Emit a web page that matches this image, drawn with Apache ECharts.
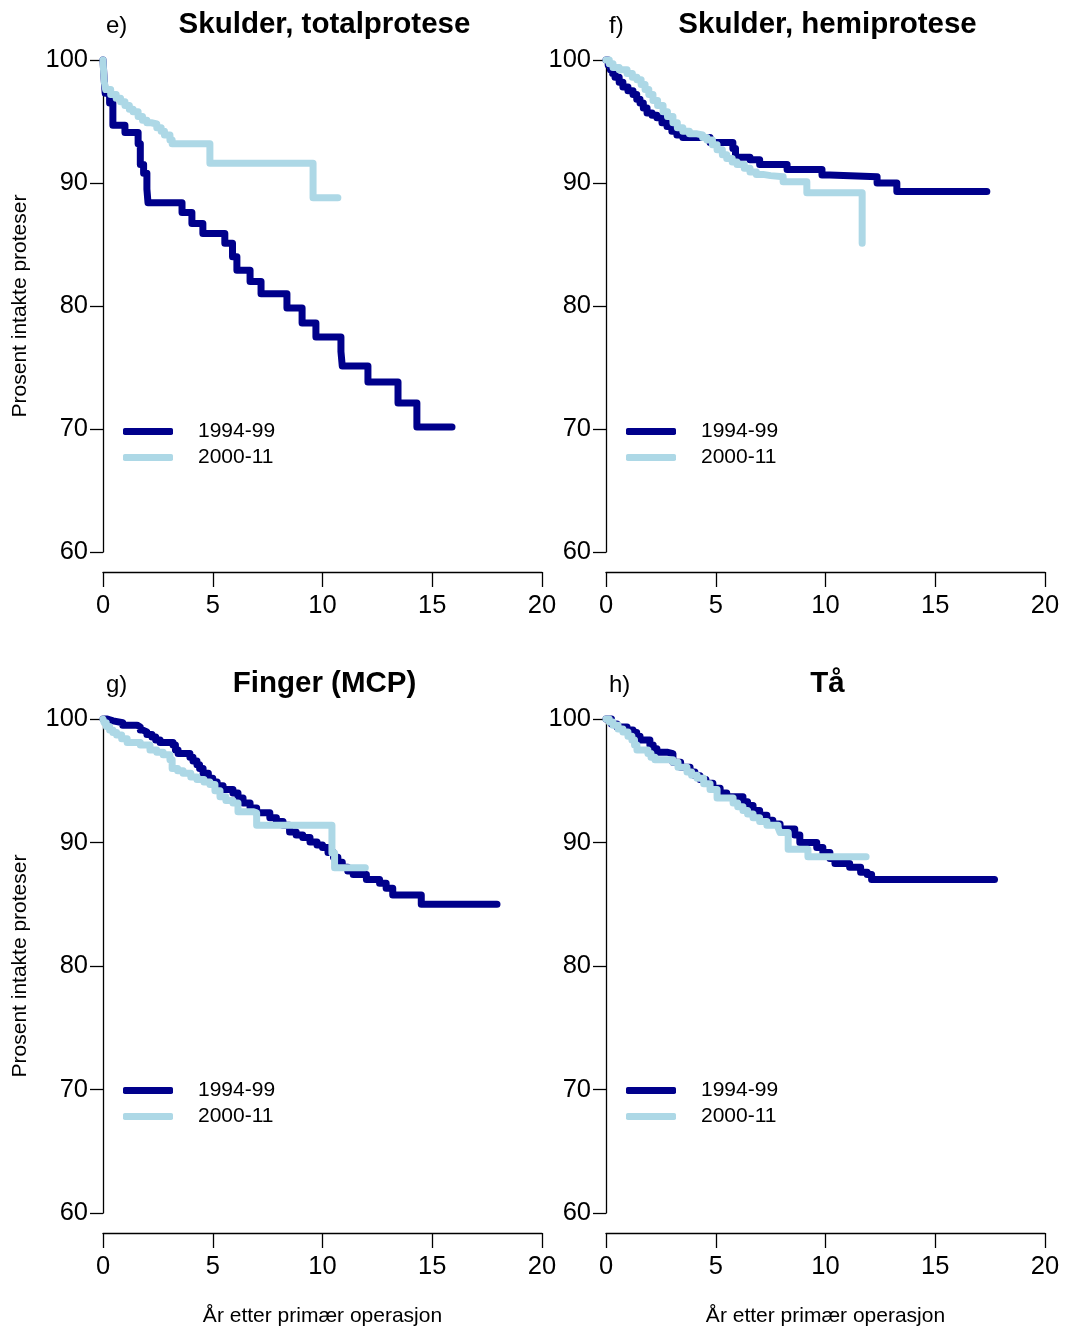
<!DOCTYPE html>
<html><head><meta charset="utf-8">
<script src="https://cdn.jsdelivr.net/npm/echarts@6/dist/echarts.min.js"></script>
<style>html,body{margin:0;padding:0;background:#fff}#c{width:1066px;height:1328px}</style>
</head><body><div id="c"></div>
<script>
// ---- data (years, percent intact) ----
const seriesNames = ['1994-99', '2000-11'];
const panelLetters = ['e)', 'f)', 'g)', 'h)'];
const panelTitles = ['Skulder, totalprotese', 'Skulder, hemiprotese', 'Finger (MCP)', 'Tå'];
const xTicks = [0, 5, 10, 15, 20];
const yTicks = [60, 70, 80, 90, 100];

const eDark = [[0,100],[0.05,98.5],[0.1,97.3],[0.3,96.5],[0.45,94.7],[1.0,94.1],[1.6,93.2],[1.7,91.5],[1.85,90.8],[2.0,89.5],[2.05,88.4],[3.6,87.6],[4.05,86.7],[4.55,85.9],[5.55,85.1],[5.9,84.0],[6.1,82.9],[6.7,82.0],[7.2,81.0],[8.38,79.84],[9.07,78.62],[9.7,77.48],[10.84,76.3],[10.9,75.12],[12.07,73.82],[13.44,72.11],[14.3,70.16],[15.9,70.16]];
const eLight = [[0,100],[0.03,99.0],[0.06,98.2],[0.12,97.6],[0.35,97.2],[0.6,96.9],[0.8,96.6],[1.0,96.3],[1.2,96.0],[1.37,95.8],[1.6,95.4],[1.8,95.1],[2.0,94.9],[2.2,94.8],[2.45,94.5],[2.65,94.2],[2.8,93.9],[3.05,93.5],[3.15,93.2],[4.87,91.6],[9.57,88.8],[10.7,88.8]];
const fDark = [[0,100],[0.1,99.6],[0.2,99.2],[0.3,98.9],[0.41,98.6],[0.6,98.2],[0.77,97.8],[1.0,97.5],[1.23,97.2],[1.4,96.8],[1.55,96.5],[1.7,96.1],[1.87,95.7],[2.1,95.5],[2.32,95.3],[2.55,94.9],[2.78,94.6],[3.0,94.2],[3.23,93.9],[3.5,93.7],[4.74,93.3],[5.78,92.8],[5.9,92.1],[6.56,91.9],[7.0,91.5],[8.25,91.1],[9.84,90.65],[10.2,90.5],[12.35,90.0],[13.25,89.3],[17.35,89.3]];
const fLight = [[0,100],[0.15,99.7],[0.32,99.4],[0.6,99.2],[0.96,98.9],[1.2,98.6],[1.41,98.4],[1.6,98.0],[1.78,97.6],[1.95,97.2],[2.14,96.7],[2.35,96.3],[2.6,95.8],[2.8,95.4],[3.05,94.9],[3.25,94.5],[3.5,94.2],[3.8,94.0],[4.15,93.9],[4.4,93.7],[4.6,93.5],[4.85,93.1],[5.06,92.7],[5.3,92.3],[5.5,92.0],[5.75,91.7],[5.97,91.5],[6.3,91.2],[6.56,90.9],[6.85,90.7],[7.15,90.6],[7.5,90.5],[8.07,90.1],[9.15,89.2],[11.67,85.1]];
const gDark = [[0,100],[0.2,99.85],[0.46,99.7],[0.9,99.5],[1.55,99.35],[1.7,99.1],[1.82,98.95],[2.0,98.75],[2.23,98.55],[2.4,98.3],[2.6,98.1],[3.19,97.9],[3.3,97.5],[3.42,97.2],[3.96,96.9],[4.1,96.6],[4.28,96.3],[4.4,96.0],[4.56,95.6],[4.8,95.2],[5.0,94.9],[5.2,94.6],[5.47,94.3],[5.92,94.0],[6.15,93.6],[6.38,93.2],[6.7,92.8],[7.0,92.4],[7.6,92.0],[7.9,91.7],[8.2,91.4],[8.5,90.85],[8.8,90.6],[9.1,90.4],[9.43,90.05],[9.75,89.8],[10.0,89.6],[10.25,89.2],[10.5,88.8],[10.7,88.4],[10.9,88.0],[11.15,87.7],[11.4,87.4],[12.0,87.0],[12.6,86.7],[12.9,86.3],[13.2,85.75],[14.5,85.0],[17.95,85.0]];
const gLight = [[0,100],[0.05,99.7],[0.15,99.4],[0.3,99.1],[0.45,98.9],[0.62,98.7],[0.85,98.4],[1.1,98.1],[1.7,97.9],[2.14,97.5],[2.45,97.3],[2.74,97.1],[3.05,96.7],[3.15,96.0],[3.4,95.8],[3.65,95.6],[4.0,95.3],[4.28,95.1],[4.6,94.9],[4.87,94.7],[5.1,94.2],[5.33,93.7],[5.6,93.4],[5.92,93.2],[6.15,92.5],[6.83,92.4],[7.0,91.4],[10.43,89.15],[10.55,87.95],[11.95,87.95]];
const hDark = [[0,100],[0.25,99.6],[0.5,99.35],[0.96,99.1],[1.23,98.9],[1.4,98.6],[1.55,98.3],[2.0,97.9],[2.15,97.6],[2.32,97.3],[2.82,97.2],[3.05,96.5],[3.4,96.1],[3.83,95.7],[4.05,95.4],[4.28,95.1],[4.55,94.8],[4.87,94.4],[5.2,94.0],[5.5,93.7],[6.24,93.3],[6.45,93.0],[6.7,92.6],[7.0,92.2],[7.33,91.8],[7.6,91.5],[7.93,91.1],[8.6,90.6],[8.83,90.0],[9.6,89.6],[9.88,89.2],[10.2,88.7],[10.43,88.3],[11.1,88.0],[11.6,87.6],[11.9,87.4],[12.1,87.0],[17.7,87.0]];
const hLight = [[0,100],[0.15,99.75],[0.32,99.5],[0.55,99.2],[0.77,98.95],[1.0,98.6],[1.18,98.3],[1.3,97.9],[1.41,97.5],[1.91,97.2],[2.05,96.9],[2.23,96.7],[3.05,96.5],[3.28,96.1],[3.69,95.7],[3.9,95.45],[4.15,95.2],[4.45,94.75],[4.74,94.3],[5.06,93.6],[5.79,93.2],[6.0,92.9],[6.24,92.6],[6.45,92.3],[6.7,92.0],[7.0,91.7],[7.33,91.4],[7.84,91.2],[7.93,90.8],[8.3,89.45],[9.2,88.85],[11.85,88.85]];

const panelData = [[eDark, eLight], [fDark, fLight], [gDark, gLight], [hDark, hLight]];
const colors = ['#00008B', '#ADD8E6'];

// ---- layout ----
const FONT = 'Liberation Sans, Arial, Helvetica, sans-serif';
const grids = [
  {left: 103, top: 60, width: 439, height: 492},
  {left: 606, top: 60, width: 439, height: 492},
  {left: 103, top: 719, width: 439, height: 494},
  {left: 606, top: 719, width: 439, height: 494}
];

const option = {
  animation: false,
  backgroundColor: '#fff',
  textStyle: {fontFamily: FONT},
  grid: grids,
  title: [],
  legend: [],
  xAxis: [],
  yAxis: [],
  series: []
};

grids.forEach((g, i) => {
  const cx = g.left + g.width / 2 - 3;
  option.title.push({
    text: panelTitles[i], left: cx, top: g.top - 55, textAlign: 'center',
    textStyle: {fontFamily: FONT, fontSize: 29.5, fontWeight: 'bold', color: '#000'}
  });
  option.title.push({
    text: panelLetters[i], left: g.left - 2, top: g.top - 51,
    textStyle: {fontFamily: FONT, fontSize: 24, fontWeight: 'normal', color: '#000'}
  });
  option.legend.push({
    data: seriesNames, orient: 'vertical', left: g.left + 15, top: g.top + 356,
    itemWidth: 50, itemHeight: 7, itemGap: 5, icon: 'roundRect', selectedMode: false,
    textStyle: {fontFamily: FONT, fontSize: 21, lineHeight: 19, color: '#000', padding: [0, 0, 0, 20]}
  });
  const bottom = i >= 2;
  const left = i % 2 === 0;
  option.xAxis.push({
    type: 'value', gridIndex: i, min: xTicks[0], max: xTicks[xTicks.length - 1], interval: 5,
    offset: 20,
    name: bottom ? 'År etter primær operasjon' : '', nameLocation: 'middle', nameGap: 73,
    nameTextStyle: {fontFamily: FONT, fontSize: 21, color: '#000'},
    axisLine: {show: true, onZero: false, lineStyle: {color: '#000', width: 1.3}},
    axisTick: {show: true, length: 15, lineStyle: {color: '#000', width: 1.3}},
    axisLabel: {fontFamily: FONT, fontSize: 25.5, color: '#000', margin: 21},
    splitLine: {show: false}
  });
  option.yAxis.push({
    type: 'value', gridIndex: i, min: yTicks[0], max: yTicks[yTicks.length - 1], interval: 10,
    name: left ? 'Prosent intakte proteser' : '', nameLocation: 'middle', nameGap: 72,
    nameTextStyle: {fontFamily: FONT, fontSize: 21, color: '#000'},
    axisLine: {show: true, lineStyle: {color: '#000', width: 1.3}},
    axisTick: {show: true, length: 13, lineStyle: {color: '#000', width: 1.3}},
    axisLabel: {fontFamily: FONT, fontSize: 25.5, color: '#000', margin: 15},
    splitLine: {show: false}
  });
  panelData[i].forEach((d, k) => {
    option.series.push({
      name: seriesNames[k], type: 'line', xAxisIndex: i, yAxisIndex: i,
      data: d, step: 'end', showSymbol: false, symbol: 'none', clip: false,
      color: colors[k],
      lineStyle: {color: colors[k], width: 7, cap: 'round', join: 'round'},
      itemStyle: {color: colors[k]},
      z: 2 + k
    });
  });
});

const chart = echarts.init(document.getElementById('c'), null, {renderer: 'canvas'});
chart.setOption(option);
</script></body></html>
